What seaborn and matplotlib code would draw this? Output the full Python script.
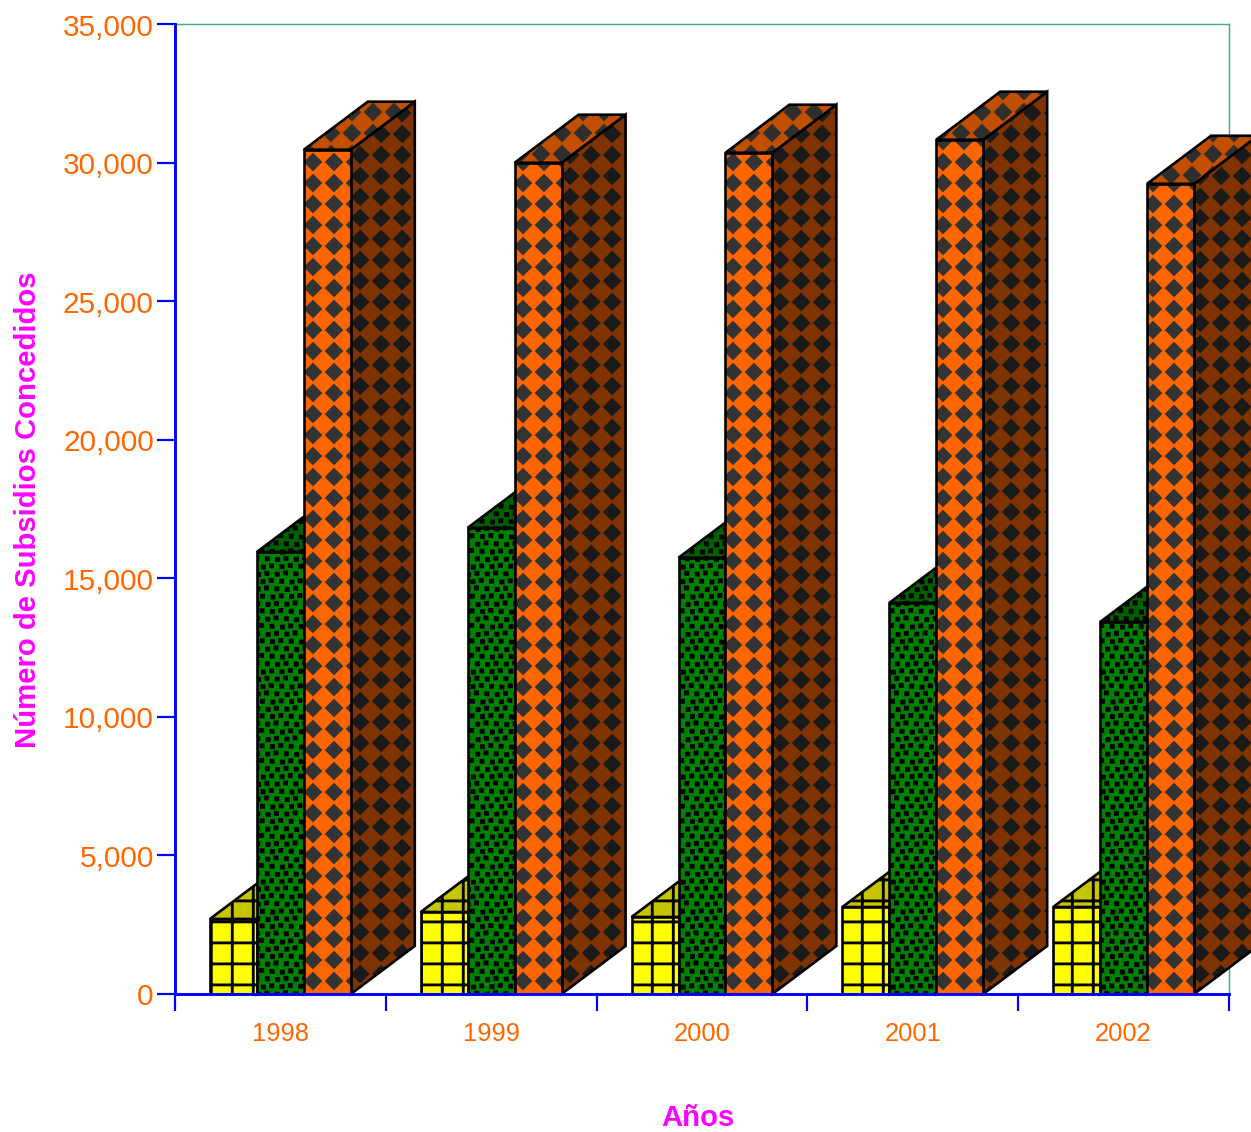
"""Barras 3D de subsidios concedidos por año (seaborn + tramas propias)."""
import matplotlib

matplotlib.use("Agg")
import matplotlib.hatch as mhatch
import matplotlib.pyplot as plt
import numpy as np
import pandas as pd
import seaborn as sns
from matplotlib.patches import Polygon
from matplotlib.path import Path
from matplotlib.ticker import StrMethodFormatter

YEARS = ["1998", "1999", "2000", "2001", "2002"]
SERIES_NAMES = ["Serie A", "Serie B", "Serie C"]
SERIES_A = [2710, 2960, 2780, 3140, 3140]
SERIES_B = [15960, 16830, 15750, 14120, 13430]
SERIES_C = [30480, 30010, 30370, 30840, 29250]
Y_TICKS = [0, 5000, 10000, 15000, 20000, 25000, 30000, 35000]

FRONT_COLORS = ["#ffff00", "#008000", "#ff6600"]
TOP_COLORS = ["#c6c600", "#006000", "#c24e00"]
SIDE_COLORS = ["#8a8a00", "#004000", "#7f3300"]
FRONT_HATCH = ["+", "o", "*"]
TOP_HATCH = ["+", "o", "X"]
SIDE_HATCH = ["+", "o", "x"]
FRONT_INK = ["black", "black", "#333333"]
TOP_INK = ["black", "black", "#2e2e2e"]
SIDE_INK = ["black", "black", "#1a1a1a"]

ORANGE = "#ff6600"
MAGENTA = "#ff00ff"
BLUE = "#0000ff"
GREEN_LINE = "#3cb07f"
DPI = 105
DEPTH_X = 64 / 211  # profundidad en unidades de categoria
DEPTH_Y = 48 * 35000 / 969  # profundidad en unidades de eje y


def square(cx, cy, half):
    return [(cx - half, cy - half), (cx + half, cy - half), (cx + half, cy + half), (cx - half, cy + half)]


def diamond(cx, cy, half):
    return [(cx - half, cy), (cx, cy - half), (cx + half, cy), (cx, cy + half)]


class ChartHatch(mhatch.HatchPatternBase):
    """Trama de la baldosa: + rejilla, o puntos, * x X rombos con distinta fase."""

    PHASES = {"*": (0.181, 0.057), "x": (0.03, 0.124), "X": (0.152, 0.133)}

    def __init__(self, hatch, density):
        verts, codes = [], []

        def add_shape(corners):
            verts.extend(corners + [corners[0]])
            codes.extend([Path.MOVETO, Path.LINETO, Path.LINETO, Path.LINETO, Path.CLOSEPOLY])

        if "+" in hatch:
            half = 0.003
            for i in range(5):
                xpos = 0.012 + i / 5
                ypos = 0.02 + i / 5
                add_shape([(xpos - half, -0.01), (xpos + half, -0.01), (xpos + half, 1.01), (xpos - half, 1.01)])
                add_shape([(-0.01, ypos - half), (1.01, ypos - half), (1.01, ypos + half), (-0.01, ypos + half)])
        if "o" in hatch:
            for row in range(14):
                for col in range(11):
                    wobble = ((row * 3 + col * 2) % 5 - 2) * 0.004
                    cx = (col + (row % 2) / 2 + 0.5) / 11 + wobble
                    cy = (row + 0.5) / 14 - wobble
                    add_shape(square(cx, cy, 0.013))
        for key, (dx, dy) in self.PHASES.items():
            if key in hatch:
                for row in range(5):
                    for col in range(5):
                        # rombo repetido fuera de la baldosa para que los bordes empalmen
                        for ox in (-1, 0, 1):
                            for oy in (-1, 0, 1):
                                add_shape(diamond(dx + col / 5 + ox, dy + row / 5 + oy, 0.074))

        self.num_vertices = len(verts)
        self.verts = np.array(verts) if verts else np.empty((0, 2))
        self.path_codes = np.array(codes, dtype=Path.code_type) if codes else np.empty(0, Path.code_type)

    def set_vertices_and_codes(self, vertices, codes):
        vertices[:] = self.verts
        codes[:] = self.path_codes


mhatch._hatch_types[:] = [ChartHatch]

sns.set_theme(style="white")
plt.rcParams["font.family"] = ["Liberation Sans", "DejaVu Sans"]
plt.rcParams["hatch.linewidth"] = 1.5


def add_face(ax, corners, face, hatch, ink, z):
    ax.add_patch(Polygon(corners, closed=True, facecolor=face, edgecolor=ink, hatch=hatch,
                         linewidth=0, zorder=z, clip_on=False))
    ax.add_patch(Polygon(corners, closed=True, fill=False, edgecolor="black", linewidth=1.8,
                         joinstyle="miter", zorder=z + 0.1, clip_on=False))


df = pd.DataFrame({
    "year": YEARS * 3,
    "series": np.repeat(SERIES_NAMES, len(YEARS)),
    "value": SERIES_A + SERIES_B + SERIES_C,
})

fig = plt.figure(figsize=(1251.01 / DPI, 1132.01 / DPI), dpi=DPI, facecolor="white")
ax = fig.add_axes([175 / 1251, 138 / 1132, 1054 / 1251, 969.5 / 1132])

sns.barplot(
    data=df, x="year", y="value", hue="series", hue_order=SERIES_NAMES,
    palette=FRONT_COLORS, saturation=1, width=141 / 211, linewidth=0,
    errorbar=None, legend=False, ax=ax,
)

for j, container in enumerate(ax.containers):
    base = 5 + j * 3
    for bar in container:
        x0, w, h = bar.get_x(), bar.get_width(), bar.get_height()
        x1 = x0 + w
        side = [(x1, 0), (x1 + DEPTH_X, DEPTH_Y), (x1 + DEPTH_X, h + DEPTH_Y), (x1, h)]
        top = [(x0, h), (x0 + DEPTH_X, h + DEPTH_Y), (x1 + DEPTH_X, h + DEPTH_Y), (x1, h)]
        add_face(ax, side, SIDE_COLORS[j], SIDE_HATCH[j], SIDE_INK[j], base)
        add_face(ax, top, TOP_COLORS[j], TOP_HATCH[j], TOP_INK[j], base + 1)
        bar.set_edgecolor(FRONT_INK[j])
        bar.set_hatch(FRONT_HATCH[j])
        bar.set_zorder(base + 2)
        ax.add_patch(Polygon([(x0, 0), (x0, h), (x1, h), (x1, 0)], closed=True, fill=False,
                             edgecolor="black", linewidth=1.8, joinstyle="miter", zorder=base + 2.1))

ax.set_xlim(-0.5, len(YEARS) - 0.5)
ax.set_ylim(0, 35000)
ax.set_yticks(Y_TICKS)
ax.yaxis.set_major_formatter(StrMethodFormatter("{x:,.0f}"))
ax.set_xticks(np.arange(len(YEARS) + 1) - 0.5)
ax.set_xticklabels([])
ax.set_xticks(np.arange(len(YEARS)), labels=YEARS, minor=True)
ax.set_axisbelow(False)

ax.tick_params(axis="x", which="major", length=11.5, width=1.5, color=BLUE, bottom=True)
ax.tick_params(axis="x", which="minor", length=0, labelsize=17.5, labelcolor=ORANGE, pad=19)
ax.tick_params(axis="y", length=12.5, width=1.5, color=BLUE, left=True, labelsize=20.4, labelcolor=ORANGE, pad=2)

for name in ("left", "bottom"):
    ax.spines[name].set_color(BLUE)
    ax.spines[name].set_linewidth(2)
    ax.spines[name].set_zorder(50)
for name in ("top", "right"):
    ax.spines[name].set_color(GREEN_LINE)
    ax.spines[name].set_linewidth(1)
    ax.spines[name].set_zorder(1)

ax.set_xlabel("Años", color=MAGENTA, fontsize=20.1, fontweight="bold", va="center")
ax.xaxis.set_label_coords((698 - 175) / 1054, -(1118 - 994) / 969.5)
ax.set_ylabel("Número de Subsidios Concedidos", color=MAGENTA, fontsize=20.1, fontweight="bold", va="center")
ax.yaxis.set_label_coords((28 - 175) / 1054, 0.5)

fig.savefig("out.png", dpi=DPI)
